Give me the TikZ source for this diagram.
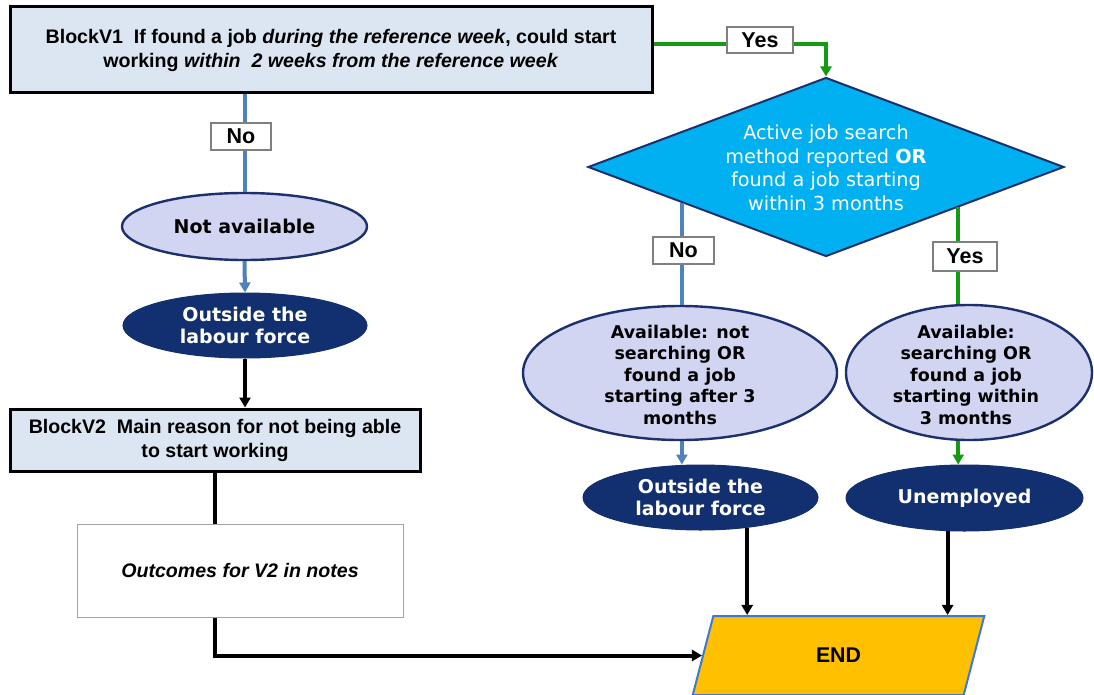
\documentclass[tikz,border=0pt]{standalone}
\usepackage{fontspec}
\setmainfont{Liberation Sans}
\newfontfamily\vfont{DejaVu Sans}
\usetikzlibrary{shapes.geometric,arrows.meta,calc}
\definecolor{blockfill}{RGB}{220,230,242}
\definecolor{diafill}{RGB}{0,176,240}
\definecolor{navy}{RGB}{28,48,110}
\definecolor{lightell}{RGB}{210,213,242}
\definecolor{darkell}{RGB}{18,47,112}
\definecolor{blueline}{RGB}{79,129,189}
\definecolor{greenline}{RGB}{20,155,20}
\definecolor{endfill}{RGB}{255,192,0}
\definecolor{endborder}{RGB}{60,120,216}
\definecolor{lblgray}{RGB}{128,128,128}
\definecolor{outgray}{RGB}{165,165,165}
\begin{document}
\begin{tikzpicture}[x=1pt,y=-1pt,
  tip/.style={-{Triangle[length=10pt,width=11pt]}},
  blk/.style={rectangle, draw=black, line width=3pt, fill=blockfill, inner sep=0pt, align=center, font=\bfseries\fontsize{19.6}{24}\selectfont},
  lell/.style={ellipse, draw=navy, line width=2.4pt, fill=lightell, inner sep=0pt},
  dell/.style={ellipse, draw=darkell, line width=1pt, fill=darkell, inner sep=0pt, text=white, align=center, font=\vfont\bfseries\fontsize{19}{22}\selectfont},
  ltxt/.style={align=center, inner sep=0pt, font=\vfont\bfseries\fontsize{17.5}{21.5}\selectfont},
  lbl/.style={rectangle, draw=lblgray, line width=1.3pt, fill=white, inner sep=0pt, minimum height=27pt, font=\bfseries\fontsize{21.5}{24}\selectfont},
  bconn/.style={draw=blueline, line width=4pt},
  gconn/.style={draw=greenline, line width=3.6pt},
  kconn/.style={draw=black, line width=4pt},
]
\useasboundingbox (0,0) rectangle (1094,695);
\fill[white] (0,0) rectangle (1094,695);

% blocks
\node[blk, minimum width=642pt, minimum height=86pt] (V1) at (331,50)
  {BlockV1\ \ If found a job \textit{during the reference week}, could start\\
   working \textit{within\ \ 2 weeks from the reference week}};
\node[blk, minimum width=410pt, minimum height=62pt] (V2) at (215,440)
  {BlockV2\ \ Main reason for not being able\\ to start working};
\node[rectangle, draw=outgray, line width=1pt, fill=white, minimum width=326pt, minimum height=93pt,
      font=\bfseries\itshape\fontsize{19.6}{24}\selectfont] (outc) at (240,570.5) {Outcomes for V2 in notes};

% left column
\node[lell, minimum width=245pt, minimum height=67pt,
      font=\vfont\bfseries\fontsize{19}{22}\selectfont] (na) at (244.5,226.5) {Not available};
\node[dell, minimum width=244pt, minimum height=65pt] (outL) at (245,325.5) {Outside the\\labour force};

% diamond
\node[diamond, draw=navy, line width=2pt, fill=diafill, inner sep=0pt,
      minimum width=476pt, minimum height=179pt] (dia) at (826,167) {};
\node[align=center, inner sep=0pt, text=white, font=\vfont\fontsize{19.3}{23.5}\selectfont] (diatxt) at (826,168)
  {Active job search\\method reported \textbf{OR}\\found a job starting\\within 3 months};

% right column
\node[lell, minimum width=314pt, minimum height=134pt] (avn) at (680,373) {};
\node[ltxt] (avntxt) at (680,374.5) {Available: not\\searching OR\\found a job\\starting after 3\\months};
\node[lell, minimum width=246pt, minimum height=135pt] (avr) at (969,372.5) {};
\node[ltxt] (avrtxt) at (966,374.5) {Available:\\searching OR\\found a job\\starting within\\3 months};
\node[dell, minimum width=235pt, minimum height=65pt] (outR) at (700.5,497.5) {Outside the\\labour force};
\node[dell, minimum width=237pt, minimum height=66pt] (unemp) at (964.5,498) {Unemployed};

% END
\node[trapezium, trapezium left angle=75.8, trapezium right angle=104.2, trapezium stretches=true,
      draw=endborder, line width=2pt, fill=endfill, inner sep=0pt,
      minimum width=293pt, minimum height=79pt,
      font=\bfseries\fontsize{21.3}{24}\selectfont] (END) at (838.5,655.5) {END};

\coordinate (nox) at (dia.194.8);
\coordinate (yesx) at (dia.343.1);

% connectors
\draw[gconn,tip] (V1.east) ++(0,-6) -| (dia.north);
\draw[bconn] (V1.south -| na.north) -- (na.north);
\draw[bconn,tip] (na.south) -- (outL.north);
\draw[kconn,tip] (outL.south) -- (outL.south |- V2.north);
\draw[kconn] (V2.south) -- (V2.south |- outc.north);
\draw[kconn,tip] (V2.south |- outc.south) |- (END.west);

\draw[bconn] (nox) -- (nox |- avn.north);
\draw[gconn] (yesx) -- (yesx |- avr.north);
\draw[bconn,tip] (nox |- avn.south) -- (nox |- outR.north);
\draw[gconn,tip] (yesx |- avr.south) -- (yesx |- unemp.north);
\draw[kconn,tip] (outR.327.5) -- (outR.327.5 |- END.north);
\draw[kconn,tip] (unemp.243.6) -- (unemp.243.6 |- END.north);

% labels
\node[lbl, minimum width=66pt, minimum height=26pt] (yes1) at (760,40) {Yes};
\node[lbl, minimum width=60pt] (no1) at (241,136.5) {No};
\node[lbl, minimum width=61pt] (no2) at (683.5,250.5) {No};
\node[lbl, minimum width=64pt, minimum height=29pt] (yes2) at (965,256.5) {Yes};
\end{tikzpicture}
\end{document}
